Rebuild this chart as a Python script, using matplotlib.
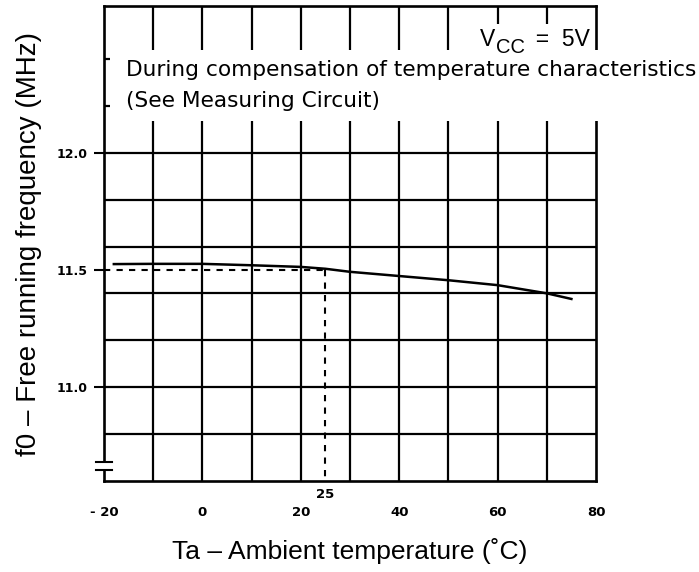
import matplotlib
matplotlib.use("Agg")
import matplotlib.pyplot as plt
from matplotlib.patches import Rectangle

# ---- data ----
temps = [-18, -10, 0, 10, 20, 25, 30, 40, 50, 60, 70, 75]
freq = [11.525, 11.526, 11.526, 11.52, 11.513, 11.505, 11.492, 11.474, 11.456, 11.435, 11.40, 11.376]
xticks = [-20, 0, 20, 40, 60, 80]
xticklabels = ["- 20", "0", "20", "40", "60", "80"]
yticks = [11.0, 11.5, 12.0]
yticklabels = ["11.0", "11.5", "12.0"]
grid_x = [-10, 0, 10, 20, 30, 40, 50, 60, 70]
grid_y = [10.8, 11.0, 11.2, 11.4, 11.6, 11.8, 12.0, 12.2, 12.4]
ref_t = 25
ref_f = 11.5

fig = plt.figure(figsize=(6.99, 5.72), dpi=100)
ax = fig.add_axes([104/699, 1 - 481/572, (596 - 104)/699, (481 - 6)/572])
ax.set_xlim(-20, 80)
ax.set_ylim(10.598, 12.628)

lw = 1.6
for s in ax.spines.values():
    s.set_linewidth(lw + 0.3)
    s.set_zorder(2.5)

ax.hlines(grid_y, -20, 80, color="black", lw=lw, zorder=1)
ax.vlines(grid_x, 10.598, 12.628, color="black", lw=lw, zorder=1)

# reference dashed lines
ax.plot([-20, ref_t], [ref_f, ref_f], color="black", lw=1.5, ls=(0, (3, 3)), zorder=2)
ax.plot([ref_t, ref_t], [ref_f, 10.598], color="black", lw=1.5, ls=(0, (3, 3)), zorder=2)

# curve
ax.plot(temps, freq, color="black", lw=1.8, zorder=2)

ax.set_xticks(xticks)
ax.set_xticklabels(xticklabels)
ax.set_yticks(yticks)
ax.set_yticklabels(yticklabels)
ax.tick_params(axis="x", length=0, pad=18, labelsize=9.5)
ax.tick_params(axis="y", length=7, width=1.5, pad=5, labelsize=9, direction="out")
for lab in ax.get_xticklabels() + ax.get_yticklabels():
    lab.set_fontweight("bold")

ax.text(ref_t, -0.015, "25", transform=ax.get_xaxis_transform(), ha="center", va="top",
        fontsize=9.5, fontweight="bold")

# white boxes behind annotations
ax.add_patch(Rectangle((0.012, 0.758), 1.2, 0.15, transform=ax.transAxes,
                       facecolor="white", edgecolor="none", zorder=3, clip_on=False))
ax.add_patch(Rectangle((0.713, 0.897), 0.282, 0.065, transform=ax.transAxes,
                       facecolor="white", edgecolor="none", zorder=3, clip_on=False))

tfont = "DejaVu Sans"
ax.text(0.045, 0.866, "During compensation of temperature characteristics",
        transform=ax.transAxes, fontsize=15.6, family=tfont, va="center", ha="left",
        zorder=4, clip_on=False)
ax.text(0.045, 0.801, "(See Measuring Circuit)",
        transform=ax.transAxes, fontsize=15.6, family=tfont, va="center", ha="left",
        zorder=4, clip_on=False)

# V_CC = 5V
vfont = "Liberation Sans"
t1 = ax.text(0.764, 0.916, "V", transform=ax.transAxes, fontsize=16.5, family=vfont,
             ha="left", va="baseline", zorder=4)
t2 = ax.annotate("CC", xy=(1, 0), xycoords=t1, xytext=(0.5, -4.5), textcoords="offset points",
                 fontsize=14.5, family=vfont, ha="left", va="bottom", zorder=4)
ax.annotate("  =  5V", xy=(1, 0), xycoords=t2, xytext=(-1, 4.5), textcoords="offset points",
            fontsize=16.5, family=vfont, ha="left", va="bottom", zorder=4)

# broken axis mark
ax.add_patch(Rectangle((-0.01, 0.023), 0.02, 0.017, transform=ax.transAxes,
                       facecolor="white", edgecolor="none", zorder=3, clip_on=False))
ax.plot([-0.016, 0.016], [0.040, 0.040], transform=ax.transAxes, color="black",
        lw=1.5, clip_on=False, zorder=4)
ax.plot([-0.016, 0.016], [0.023, 0.023], transform=ax.transAxes, color="black",
        lw=1.5, clip_on=False, zorder=4)

ax.set_ylabel("f0 \u2013 Free running frequency (MHz)", family="Liberation Sans",
              fontsize=20, labelpad=10)
ax.set_xlabel("Ta \u2013 Ambient temperature (\u02daC)", family="Liberation Sans",
              fontsize=19, labelpad=14)

fig.savefig("out.png", dpi=100)
